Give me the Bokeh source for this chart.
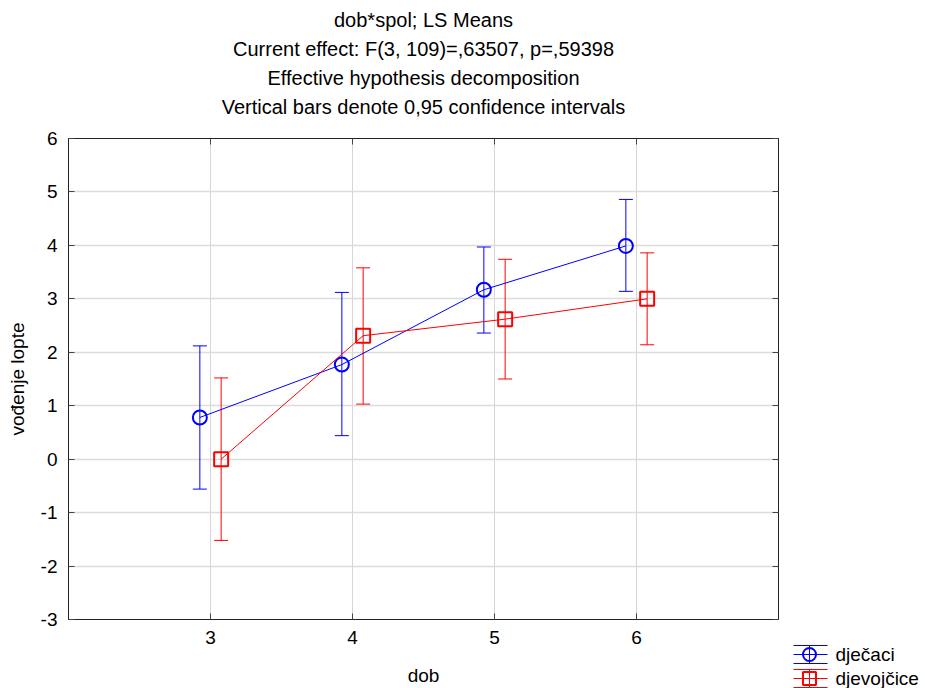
from bokeh.plotting import figure
from bokeh.models import (Range1d, FixedTicker, LinearAxis, Whisker, TeeHead,
                          ColumnDataSource, Title)
from bokeh.layouts import row
from bokeh.core.properties import value
from bokeh.embed import file_html
from bokeh.resources import INLINE

# ---- data ----
ages = [3, 4, 5, 6]
boys_mean = [0.78, 1.77, 3.17, 3.99]
boys_lo = [-0.56, 0.44, 2.36, 3.14]
boys_hi = [2.12, 3.12, 3.97, 4.86]
girls_mean = [0.00, 2.31, 2.62, 3.00]
girls_lo = [-1.52, 1.03, 1.50, 2.14]
girls_hi = [1.52, 3.58, 3.74, 3.86]
y_ticks = [-3, -2, -1, 0, 1, 2, 3, 4, 5, 6]
titles = ["dob*spol; LS Means",
          "Current effect: F(3, 109)=,63507, p=,59398",
          "Effective hypothesis decomposition",
          "Vertical bars denote 0,95 confidence intervals"]
series_names = ["dječaci", "djevojčice"]

FONT = "Liberation Sans"
FS = "19px"
BLUE = "#0000ff"
RED = "#ff0000"
DODGE = 0.075

W1, W2, H = 785, 140, 688
p = figure(width=W1, height=H, output_backend="svg", toolbar_location=None,
           x_range=Range1d(2, 7), y_range=Range1d(-3, 6),
           min_border_left=68, min_border_right=7,
           min_border_top=138, min_border_bottom=68)
p.frame_align = False
p.outline_line_color = "#222222"
p.outline_line_width = 1
p.background_fill_color = "white"
p.border_fill_color = "white"

xt = FixedTicker(ticks=ages)
yt = FixedTicker(ticks=y_ticks)
p.xaxis.ticker = xt
p.yaxis.ticker = yt
p.xgrid.ticker = xt
p.ygrid.ticker = yt
p.xgrid.grid_line_color = "#d6d6d6"
p.ygrid.grid_line_color = "#dcdcdc"
p.ygrid.grid_line_width = 1.5

for ax in (p.xaxis[0], p.yaxis[0]):
    ax.major_label_text_font = FONT
    ax.major_label_text_font_size = FS
    ax.major_label_text_color = "black"
    ax.axis_label_text_font = FONT
    ax.axis_label_text_font_size = FS
    ax.axis_label_text_font_style = "normal"
    ax.axis_label_text_color = "black"
    ax.minor_tick_line_color = None
    ax.major_tick_in = 6
    ax.major_tick_out = 0
    ax.major_tick_line_color = "#444444"
    ax.axis_line_color = "#222222"

p.yaxis.major_label_overrides = {t: str(t) for t in y_ticks}
p.xaxis.major_label_standoff = 11
p.yaxis.major_label_standoff = 11
p.xaxis.axis_label = "dob"
p.xaxis.axis_label_standoff = 18
p.yaxis.axis_label = "vođenje lopte"
p.yaxis.axis_label_standoff = 10

# extra axes on right and top (ticks only, no labels drawn)
ra = LinearAxis(ticker=yt, major_label_text_font_size="0px",
                major_label_text_color=None, major_tick_in=6,
                major_tick_out=0, minor_tick_line_color=None,
                major_tick_line_color="#444444", axis_line_color="#222222",
                major_label_standoff=0)
ta = LinearAxis(ticker=xt, major_label_text_font_size="0px",
                major_label_text_color=None, major_tick_in=6,
                major_tick_out=0, minor_tick_line_color=None,
                major_tick_line_color="#444444", axis_line_color="#222222",
                major_label_standoff=0)
p.add_layout(ra, "right")
p.add_layout(ta, "above")

series = [(boys_mean, boys_lo, boys_hi, BLUE, "circle", -DODGE),
          (girls_mean, girls_lo, girls_hi, RED, "square", DODGE)]
for means, lo, hi, col, marker, off in series:
    xs = [a + off for a in ages]
    src = ColumnDataSource(dict(x=xs, y=means, lo=lo, hi=hi))
    w = Whisker(source=src, base="x", lower="lo", upper="hi", dimension="height",
                line_color=col, line_width=1,
                lower_head=TeeHead(size=14, line_color=col, line_width=1),
                upper_head=TeeHead(size=14, line_color=col, line_width=1))
    p.add_layout(w)
    p.line("x", "y", source=src, line_color=col, line_width=1)
    p.scatter("x", "y", source=src, marker=marker, size=14,
              line_color=col, line_width=2, fill_color=None)

# spacer between plot frame and title block
p.add_layout(Title(text=" ", text_font_size="10px", standoff=5), "above")
# titles: added bottom-most first (closest to the plot)
for txt in reversed(titles):
    p.add_layout(Title(text=txt, align="center",
                       text_font=FONT, text_font_size="20px",
                       text_font_style="normal", text_color="black",
                       standoff=5), "above")

# ---- legend panel (pixel-space figure to the right) ----
p2 = figure(width=W2, height=H, output_backend="svg", toolbar_location=None,
            x_range=Range1d(0, W2), y_range=Range1d(H, 0),
            x_axis_location=None, y_axis_location=None,
            min_border=0, min_border_left=0, min_border_right=0,
            min_border_top=0, min_border_bottom=0)
p2.frame_align = False
p2.grid.visible = False
p2.outline_line_color = None
p2.background_fill_color = "white"
p2.border_fill_color = "white"

row_y = [654, 678]
gx0, gx1, gxc, cap, tx = 8, 42, 24, 9, 50
for name, (_, _, _, col, marker, _), yc in zip(series_names, series, row_y):
    p2.segment(x0=[gx0] * 3, x1=[gx1] * 3, y0=[yc - cap, yc, yc + cap],
               y1=[yc - cap, yc, yc + cap], line_color=col, line_width=1)
    p2.segment(x0=[gxc], x1=[gxc], y0=[yc - cap], y1=[yc + cap],
               line_color=col, line_width=1)
    p2.scatter(x=[gxc], y=[yc], marker=marker, size=13, line_color=col,
               line_width=2, fill_color=None)
    p2.text(x=[tx], y=[yc], text=[name], text_font=value(FONT),
            text_font_size=value(FS), text_baseline="middle",
            text_align="left", text_color="black")

open("out.html", "w").write(file_html(row(p, p2), INLINE))
